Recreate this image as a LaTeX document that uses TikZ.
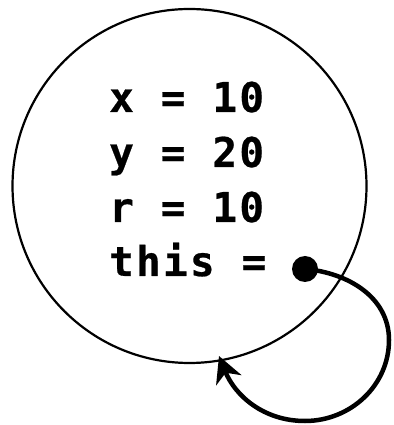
\documentclass[tikz,border=0pt]{standalone}
\usepackage{fontspec}
\newfontfamily\codefont[LetterSpace=5.5,FakeBold=0.6]{DejaVu Sans Mono Bold}
\usetikzlibrary{arrows.meta}
\tikzset{
  codeline/.style={anchor=base west, inner sep=0pt, font=\codefont\fontsize{41pt}{41pt}\selectfont},
  objcircle/.style={draw, line width=2.2pt},
  refarrow/.style={line width=4.5pt, -{Stealth[length=26pt,width=27pt,inset=8pt]}}
}
\begin{document}
\begin{tikzpicture}[x=1pt,y=1pt]
\useasboundingbox (0,0) rectangle (393,425);
\node[objcircle, circle, minimum size=354pt, inner sep=0pt] (obj) at (189.5,239) {};
\node[codeline] (lx) at (109,313) {x = 10};
\node[codeline] (ly) at (109,258) {y = 20};
\node[codeline] (lr) at (109,203) {r = 10};
\node[codeline] (lt) at (109,149) {this =};
\node[circle, fill=black, minimum size=26pt, inner sep=0pt] (dot) at (305,156) {};
\coordinate (right) at (389,85);
\coordinate (bottom) at (305,4);
\coordinate (tip) at (219,69);
\draw[refarrow] (dot.center) to[out=-5,in=90] (right) to[out=-90,in=0] (bottom) to[out=180,in=-68] (tip);
\end{tikzpicture}
\end{document}
